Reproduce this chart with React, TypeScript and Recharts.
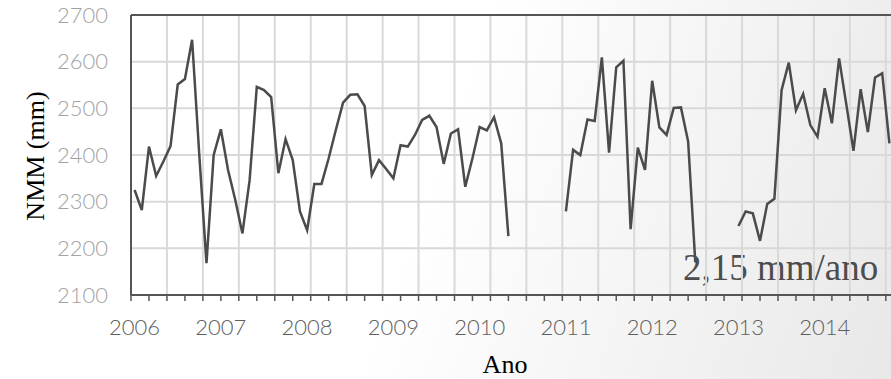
import { LineChart, Line, XAxis, YAxis, CartesianGrid, ReferenceLine } from "recharts"

// Nível médio mensal (mm), jan/2006 a out/2014; null = mês sem dado
const anos = ["2006", "2007", "2008", "2009", "2010", "2011", "2012", "2013", "2014"]
const nmm2006 = [2325, 2282, 2418, 2355, 2386, 2419, 2551, 2563, 2647, 2400, 2168, 2400]
const nmm2007 = [2455, 2368, 2304, 2232, 2346, 2546, 2539, 2524, 2361, 2434, 2389, 2279]
const nmm2008 = [2239, 2338, 2338, 2393, 2454, 2512, 2529, 2530, 2505, 2357, 2389, 2370]
const nmm2009 = [2350, 2421, 2418, 2443, 2475, 2484, 2460, 2381, 2446, 2455, 2332, 2393]
const nmm2010 = [2460, 2453, 2481, 2425, 2226, null, null, null, null, null, null, null]
const nmm2011 = [2279, 2411, 2400, 2476, 2473, 2609, 2405, 2588, 2602, 2241, 2416, 2368]
const nmm2012 = [2559, 2459, 2443, 2501, 2502, 2429, 2170, null, null, null, null, null]
const nmm2013 = [2248, 2279, 2275, 2216, 2295, 2306, 2539, 2598, 2496, 2531, 2464, 2439]
const nmm2014 = [2543, 2468, 2607, 2509, 2409, 2541, 2449, 2566, 2575, 2425]

const serie = [...nmm2006, ...nmm2007, ...nmm2008, ...nmm2009, ...nmm2010, ...nmm2011, ...nmm2012, ...nmm2013, ...nmm2014]
const data = serie.map((v, i) => ({ mes: i, nmm: v }))

const yTicks = [2100, 2200, 2300, 2400, 2500, 2600, 2700]
const yearTicks = anos.map((_, k) => k * 12)
const minorTicks = Array.from({ length: 43 }, (_, k) => -0.5 + 2.5 * k)
const gridX = Array.from({ length: 21 }, (_, k) => 4.5 + 5 * k)

const tickFont = "Lato, 'Open Sans', sans-serif"
const serif = "'Liberation Serif', 'Times New Roman', serif"
const gridColor = "#d9d9d9"

const yTitle = (props: any) => {
  const vb = props.viewBox
  const x = vb.x + 43.5
  const y = vb.y + vb.height / 2 + 1
  return (
    <text x={x} y={y} transform={`rotate(-90 ${x} ${y})`} textAnchor="middle" fontFamily={serif} fontSize={26} fill="#000">
      NMM (mm)
    </text>
  )
}

const xTitle = (props: any) => {
  const vb = props.viewBox
  return (
    <text x={vb.x + vb.width / 2 - 7} y={vb.y + 71} textAnchor="middle" fontFamily={serif} fontSize={26} fill="#000">
      Ano
    </text>
  )
}

export default function App() {
  return (
    <div
      style={{
        position: "fixed",
        left: 0,
        top: 0,
        width: 891,
        height: 379,
        overflow: "hidden",
        background: "linear-gradient(110deg, #ffffff 0%, #ffffff 48%, #e8e8e8 100%)",
      }}
    >
      <LineChart width={900} height={379} data={data} margin={{ top: 15, right: 7, bottom: 0, left: 0 }}>
        <CartesianGrid vertical={false} stroke={gridColor} strokeWidth={2} fill="none" />
        {gridX.map((g) => (
          <ReferenceLine key={g} x={g} stroke={gridColor} strokeWidth={2} />
        ))}
        <ReferenceLine y={2700} stroke="#555" strokeWidth={2} />
        <XAxis
          type="number"
          dataKey="mes"
          domain={[-0.5, 105.5]}
          ticks={minorTicks}
          tickFormatter={() => ""}
          tickSize={6}
          height={7}
          interval={0}
          allowDataOverflow
          axisLine={{ stroke: "#555", strokeWidth: 2 }}
          tickLine={{ stroke: "#555", strokeWidth: 1.5 }}
        />
        <XAxis
          xAxisId="ano"
          type="number"
          dataKey="mes"
          domain={[-0.5, 105.5]}
          ticks={yearTicks}
          tickFormatter={(v: number) => anos[v / 12]}
          interval={0}
          allowDataOverflow
          height={77}
          axisLine={false}
          tickLine={false}
          tickSize={0}
          tickMargin={17}
          tick={{ fill: "#5e5e5e", fontSize: 22, fontFamily: tickFont, fontWeight: 300 }}
          label={xTitle}
        />
        <YAxis
          domain={[2100, 2700]}
          ticks={yTicks}
          interval={0}
          width={131}
          tickLine={false}
          tickSize={0}
          tickMargin={23}
          axisLine={{ stroke: "#555", strokeWidth: 2 }}
          tick={{ fill: "#a3a3a3", fontSize: 22, fontFamily: tickFont, fontWeight: 300 }}
          label={yTitle}
        />
        <Line
          type="linear"
          dataKey="nmm"
          stroke="#4b4b4b"
          strokeWidth={2.5}
          dot={false}
          activeDot={false}
          connectNulls={false}
          isAnimationActive={false}
        />
        <text x={683} y={280} fontFamily={serif} fontSize={37} fill="#4d4d4d">
          2,15 mm/ano
        </text>
      </LineChart>
    </div>
  )
}
